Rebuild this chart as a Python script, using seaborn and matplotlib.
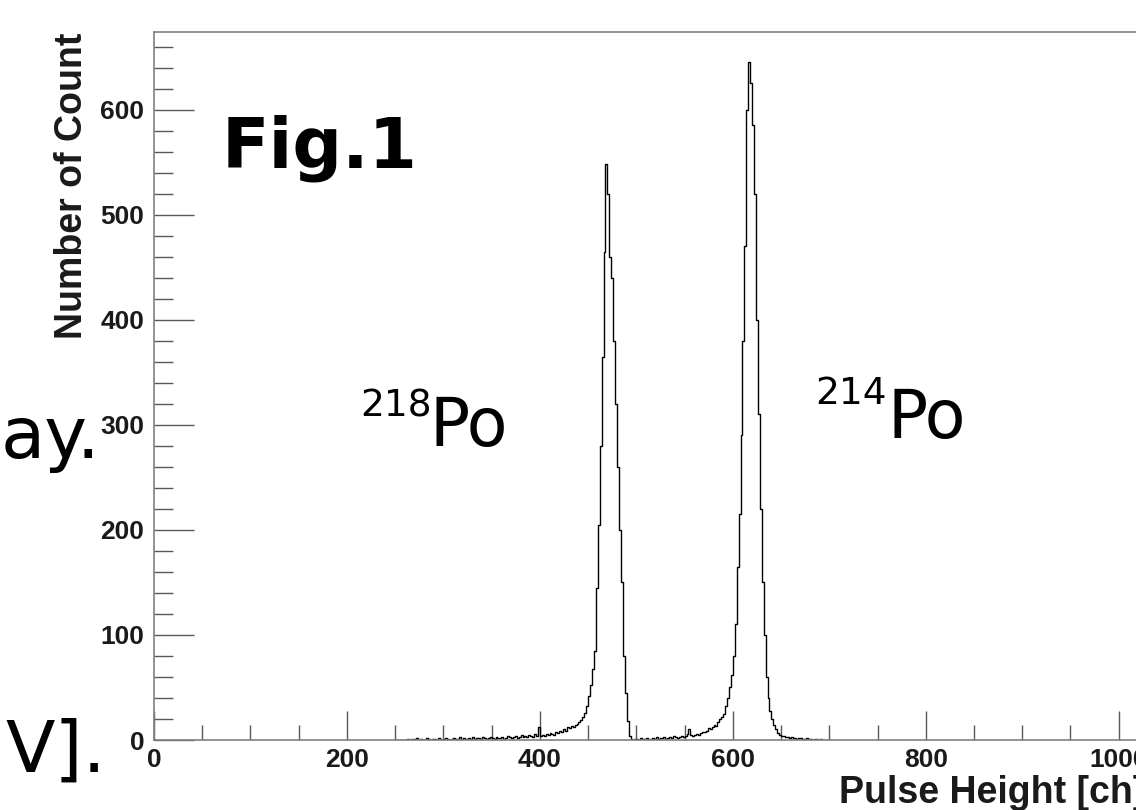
import numpy as np
import pandas as pd
import matplotlib
matplotlib.use("Agg")
import matplotlib.pyplot as plt
from matplotlib.ticker import MultipleLocator
import seaborn as sns

# Pulse height spectrum of radon daughters (2-channel bins)
bin_width = 2
first_channel = 250
counts = [
    # 250-298
    0, 0, 0, 0, 0, 0, 1, 0, 1, 0, 1, 2, 0, 1, 0, 0, 2, 1, 0, 1, 1, 0, 2, 1, 0,
    # 300-348
    1, 2, 1, 0, 1, 2, 1, 1, 3, 1, 2, 1, 0, 2, 1, 3, 1, 2, 2, 1, 3, 2, 1, 2, 3,
    # 350-398
    2, 1, 3, 2, 2, 3, 1, 2, 4, 3, 2, 3, 4, 2, 3, 5, 3, 4, 3, 5, 4, 3, 6, 4, 12,
    # 400-448
    4, 5, 4, 6, 5, 7, 6, 5, 8, 7, 9, 8, 10, 9, 12, 11, 13, 12, 14, 15, 17, 19, 22, 26, 32,
    # 450-498  (218Po)
    42, 52, 68, 85, 145, 205, 280, 365, 465, 548, 520, 460, 440, 380, 320, 260, 200, 150, 80, 45,
    18, 4, 1, 0, 1,
    # 500-548
    1, 0, 2, 1, 1, 2, 0, 1, 2, 1, 3, 1, 2, 2, 3, 1, 2, 3, 2, 4, 3, 2, 3, 4, 3,
    # 550-598
    4, 6, 10, 5, 4, 5, 6, 5, 7, 8, 8, 9, 11, 10, 12, 14, 13, 17, 20, 22, 25, 32, 40, 50, 62,
    # 600-648  (214Po)
    80, 110, 165, 215, 290, 380, 470, 600, 645, 625, 585, 520, 400, 310, 220, 150, 100, 60, 40, 28,
    20, 14, 10, 7, 5,
    # 650-698
    4, 4, 3, 3, 2, 3, 2, 2, 1, 2, 2, 1, 1, 2, 1, 1, 0, 1, 1, 0, 1, 0, 0, 0, 0,
]
x_ticks = [0, 200, 400, 600, 800, 1000]
y_ticks = [0, 100, 200, 300, 400, 500, 600]
peak_labels = [("218", "Po"), ("214", "Po")]

channels = first_channel + bin_width * np.arange(len(counts)) + bin_width / 2
edges = (first_channel + bin_width * np.arange(len(counts) + 1)).tolist()
df = pd.DataFrame({"channel": channels, "count": counts})

sns.set_style("ticks")
plt.rcParams["font.family"] = ["Liberation Sans", "DejaVu Sans"]

W, H = 1136, 810
fig = plt.figure(figsize=(W / 100, H / 100), dpi=100)
ax = fig.add_axes([154 / W, 70 / H, (W - 154 + 2) / W, (740 - 32) / H])

sns.histplot(data=df, x="channel", weights="count", bins=edges, element="step",
             fill=False, color="black", linewidth=1.0, ax=ax)

ax.set_xlim(0, 1020)
ax.set_ylim(0, 674)
ax.set_xticks(x_ticks)
ax.set_yticks(y_ticks)
ax.xaxis.set_minor_locator(MultipleLocator(50))
ax.yaxis.set_minor_locator(MultipleLocator(20))
ax.tick_params(which="both", direction="in", colors="0.35", labelcolor="#1a1a1a")
ax.tick_params(axis="x", which="major", length=21, width=1.0, labelsize=19, pad=6)
ax.tick_params(axis="x", which="minor", length=11, width=1.0)
ax.tick_params(axis="y", which="major", length=29, width=1.0, labelsize=19, pad=7)
ax.tick_params(axis="y", which="minor", length=14, width=1.0)
for lab in ax.get_xticklabels() + ax.get_yticklabels():
    lab.set_fontweight("bold")
for s in ax.spines.values():
    s.set_color("0.5")
    s.set_linewidth(1.2)
ax.set_xlabel("")
ax.set_ylabel("")

# axis titles, ROOT style (aligned to the axis ends)
fig.text(1145 / W, 1 - 803 / H, "Pulse Height [ch]", ha="right", va="baseline",
         fontsize=27, fontweight="bold", color="#1a1a1a")
fig.text(72 / W, 1 - 33 / H, "Number of Count", rotation=90, ha="center", va="top",
         fontsize=27, fontweight="bold", color="#1a1a1a")

# slide annotations
hand = ["DejaVu Sans"]
fig.text(222 / W, 1 - 168 / H, "Fig.1", family=hand, fontsize=50, fontweight="bold",
         color="black", ha="left", va="baseline")
for (mass, elem), (xs, ys, xe, ye) in zip(peak_labels, [(360, 416, 430, 446), (815, 404, 888, 438)]):
    fig.text(xs / W, 1 - ys / H, mass, family=hand, fontsize=27, color="black",
             ha="left", va="baseline")
    fig.text(xe / W, 1 - ye / H, elem, family=hand, fontsize=48, color="black",
             ha="left", va="baseline")
fig.text(100 / W, 1 - 458 / H, "ay.", family=hand, fontsize=52, color="black",
         ha="right", va="baseline")
fig.text(106 / W, 1 - 772 / H, "V].", family=hand, fontsize=52, color="black",
         ha="right", va="baseline")

fig.savefig("out.png", dpi=100)
plt.close(fig)
